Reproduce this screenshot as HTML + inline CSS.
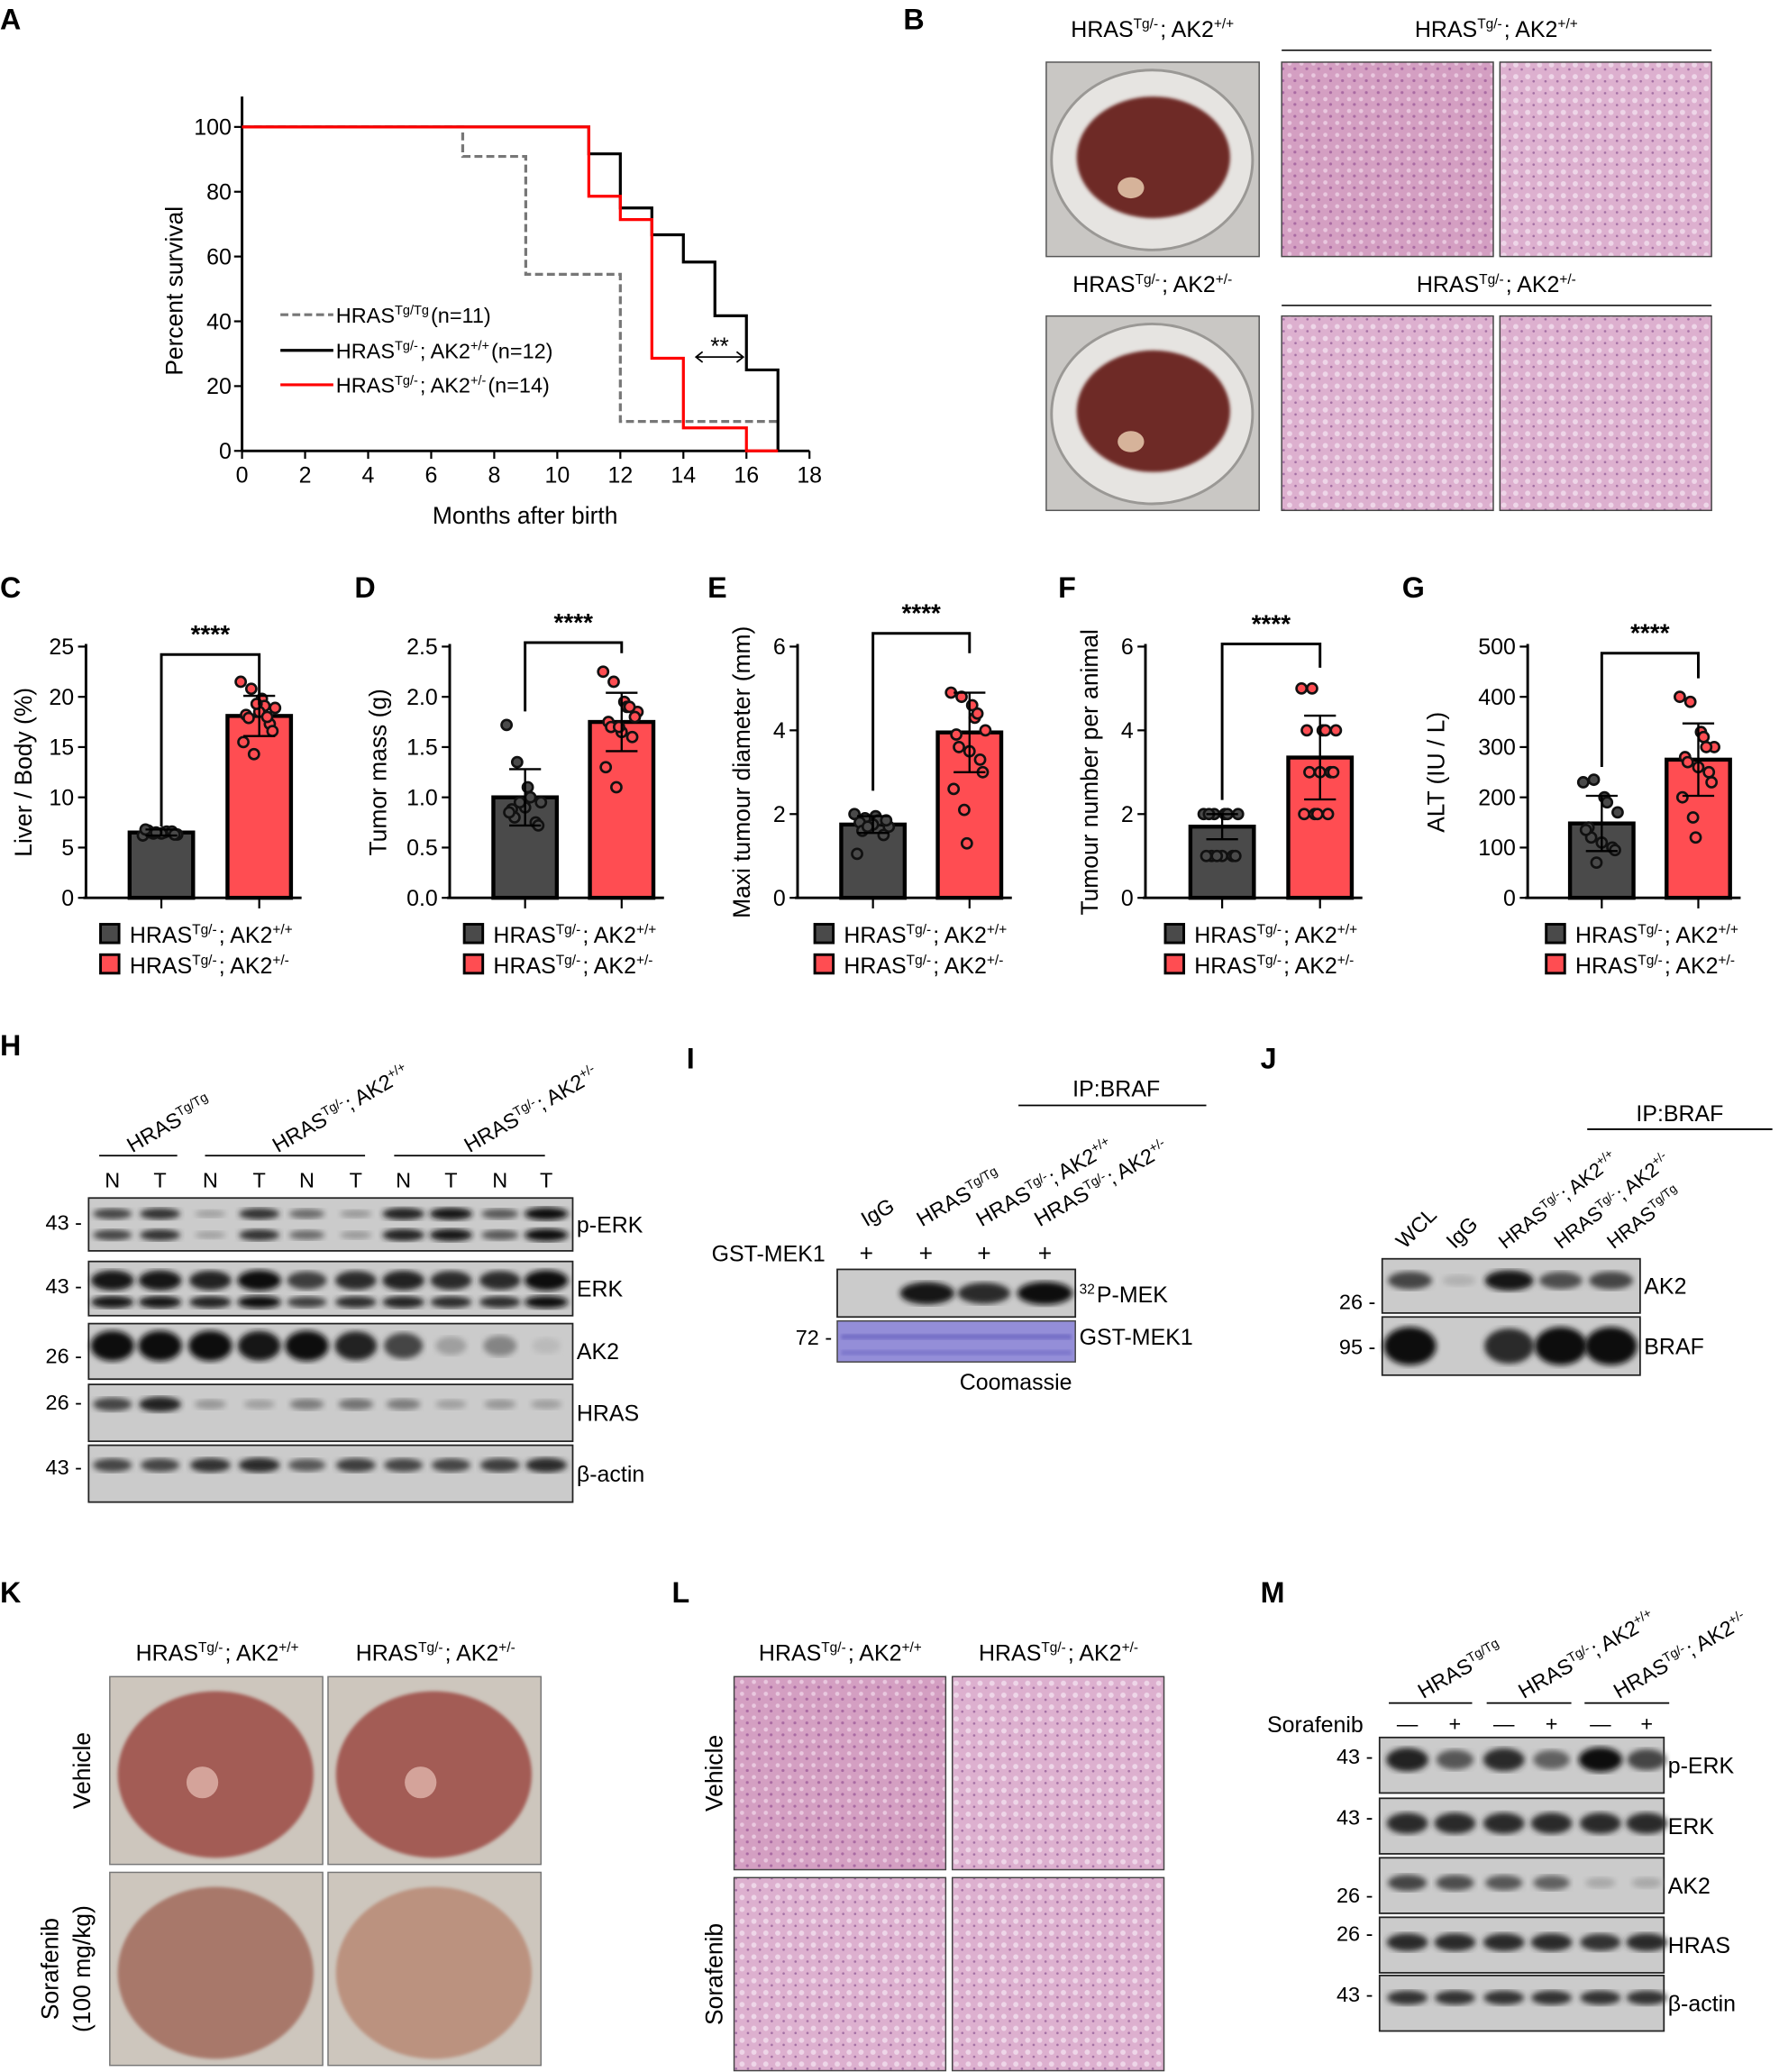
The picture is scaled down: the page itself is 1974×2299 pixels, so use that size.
<!DOCTYPE html>
<html><head><meta charset="utf-8"><style>
html,body{margin:0;padding:0;background:#fff}
svg{display:block;font-family:"Liberation Sans",Arial,sans-serif}
</style></head><body>
<svg id="fig" width="1974" height="2299" viewBox="0 0 1345 1567" preserveAspectRatio="none" xmlns="http://www.w3.org/2000/svg">
<defs>
<filter id="blur2"><feGaussianBlur stdDeviation="2.2"/></filter>
<filter id="blur1"><feGaussianBlur stdDeviation="1.2"/></filter>
<pattern id="histo" width="9" height="9" patternUnits="userSpaceOnUse"><rect width="9" height="9" fill="#d49fc2"/><circle cx="3" cy="3" r="1.6" fill="#e9c8df"/><circle cx="7" cy="7" r="1.1" fill="#a96aa3"/></pattern>
<pattern id="histo2" width="9" height="9" patternUnits="userSpaceOnUse"><rect width="9" height="9" fill="#ddb0cf"/><circle cx="3" cy="4" r="2" fill="#eed6e8"/><circle cx="7.5" cy="7.5" r="0.9" fill="#a36fa4"/></pattern>
</defs>
<g id="root"></g>
</svg>
<script>
// ---- Panel A data ----
const kmMonthsGray = [0,7,9,12,17];
const kmGray = [100,90.9,54.5,9.1,9.1];
const kmMonthsBlack = [0,11,12,13,14,15,16,17];
const kmBlack = [100,91.7,75,66.7,58.3,41.7,25,0];
const kmMonthsRed = [0,11,12,13,14,16,17];
const kmRed = [100,78.6,71.4,28.6,7.1,0,0];
const kmXTicks = [0,2,4,6,8,10,12,14,16,18];
const kmYTicks = [0,20,40,60,80,100];
// ---- Bar panels data ----
const barMeans_C = [6.5,18.1];
const barSD_C = [0.3,2.0];
const dots_C_ctrl = [6.2,6.4,6.5,6.6,6.3,6.7,6.5,6.4,6.6,6.3,6.8,6.5];
const dots_C_het = [21.5,20.8,19.8,19.1,18.9,18.2,17.9,18.5,17.3,16.6,15.5,14.3,19.3,18.0];
const barMeans_D = [1.0,1.75];
const barSD_D = [0.28,0.29];
const dots_D_ctrl = [1.72,1.35,1.1,1.0,0.95,0.88,0.8,0.9,0.75,0.72,0.85,0.95];
const dots_D_het = [2.25,2.15,1.95,1.9,1.85,1.75,1.7,1.65,1.6,1.8,1.3,1.1,1.7,1.9];
const barMeans_E = [1.75,3.95];
const barSD_E = [0.2,0.95];
const dots_E_ctrl = [2.0,1.9,1.95,1.85,1.7,1.8,1.6,1.75,1.5,1.85,1.05,1.7];
const dots_E_het = [4.9,4.8,4.6,4.3,4.0,3.9,3.6,3.5,3.3,3.0,2.6,2.1,1.3,4.4];
const barMeans_F = [1.7,3.35];
const barSD_F = [0.3,1.0];
const dots_F_ctrl = [2,2,2,2,2,2,1,1,1,1,1,1];
const dots_F_het = [5,5,4,4,4,4,3,3,3,3,2,2,2,2];
const barMeans_G = [148,275];
const barSD_G = [55,72];
const dots_G_ctrl = [230,235,200,190,170,140,120,110,100,95,135,70];
const dots_G_het = [400,390,330,320,300,280,270,260,250,230,200,160,120,300];
// ---- Blot intensities ----
const blotH_pERK = [0.7,0.8,0.2,0.8,0.5,0.25,0.9,0.95,0.6,1];
const blotH_ERK = [0.95,0.95,0.9,1,0.75,0.85,0.9,0.85,0.85,1];
const blotH_AK2 = [1,1,1,0.95,1,0.9,0.7,0.2,0.35,0.05];
const blotH_HRAS = [0.7,0.9,0.25,0.2,0.4,0.45,0.4,0.2,0.25,0.2];
const blotH_actin = [0.7,0.7,0.8,0.85,0.6,0.75,0.7,0.7,0.75,0.85];

const NS="http://www.w3.org/2000/svg";
const root=document.getElementById('root');
function el(tag,attrs,parent,text){const e=document.createElementNS(NS,tag);for(const k in attrs)e.setAttribute(k,attrs[k]);if(text!==undefined)e.textContent=text;(parent||root).appendChild(e);return e;}
function grp(name,parent){const g=el('g',{},parent);return g;}
function txt(p,x,y,s,size,opts){opts=opts||{};const t=el('text',Object.assign({x:x,y:y,'font-size':size||17,fill:'#000'},opts),p);
  const parts=s.split(/(\^\{[^}]*\})/);parts.forEach(pt=>{if(pt.startsWith('^{')){el('tspan',{'font-size':(size||17)*0.62,dy:-(size||17)*0.38},t,pt.slice(2,-1));el('tspan',{dy:(size||17)*0.38},t,'\u200a');}else if(pt)el('tspan',{},t,pt);});return t;}
function panelLetter(l,x,y){const t=txt(root,x,y,l,22,{'font-weight':'bold'});}

[['A',0,22],['B',683,22],['C',0,452],['D',268,452],['E',535,452],['F',800,452],['G',1060,452],['H',0,798],['I',519,808],['J',953,808],['K',0,1212],['L',508,1212],['M',953,1212]].forEach(a=>panelLetter(a[0],a[1],a[2]));

// ================= Panel A =================
(function(){
  const g=grp('survival-chart');
  const x0=183,x1=612,yb=341,yt=96;
  const xs=m=>x0+(x1-x0)*m/18, ys=v=>yb-(yb-yt)*v/100;
  const ax=el('line',{x1:x0,y1:73,x2:x0,y2:yb,stroke:'#000','stroke-width':2},g);
  const bx=el('line',{x1:x0,y1:yb,x2:x1,y2:yb,stroke:'#000','stroke-width':2},g);
  kmXTicks.forEach(t=>{el('line',{x1:xs(t),y1:yb,x2:xs(t),y2:yb+6,stroke:'#000','stroke-width':1.5},g);const l=txt(g,xs(t),yb+24,String(t),17,{'text-anchor':'middle'});});
  kmYTicks.forEach(t=>{el('line',{x1:x0-6,y1:ys(t),x2:x0,y2:ys(t),stroke:'#000','stroke-width':1.5},g);const l=txt(g,x0-8,ys(t)+6,String(t),17,{'text-anchor':'end'});});
  const yt_=txt(g,0,0,'Percent survival',18,{'text-anchor':'middle',transform:'translate(138,220) rotate(-90)'});
  const xt=txt(g,397,396,'Months after birth',18,{'text-anchor':'middle'});
  function step(ms,vs,color,dash,name){let d='M'+xs(ms[0])+','+ys(vs[0]);for(let i=1;i<ms.length;i++){d+=' H'+xs(ms[i])+' V'+ys(vs[i]);}
    const p=el('path',{d:d,fill:'none',stroke:color,'stroke-width':2.2,'stroke-dasharray':dash||''},g);}
  step(kmMonthsGray,kmGray,'#777','6,3','series-hras-tg-tg');
  step(kmMonthsBlack,kmBlack,'#000','','series-ak2-wt');
  step(kmMonthsRed,kmRed,'#f00','','series-ak2-het');
  const lg=grp('legend',g);
  [['#777','6,3','HRAS^{Tg/Tg}(n=11)',244],['#000','','HRAS^{Tg/-}; AK2^{+/+}(n=12)',271],['#f00','','HRAS^{Tg/-}; AK2^{+/-}(n=14)',297]].forEach((r,i)=>{
    const e=grp('legend-entry',lg);el('line',{x1:212,y1:r[3]-6,x2:252,y2:r[3]-6,stroke:r[0],'stroke-width':2.2,'stroke-dasharray':r[1]},e);txt(e,254,r[3],r[2],16);});
  el('line',{x1:xs(14.4),y1:270,x2:xs(15.9),y2:270,stroke:'#000','stroke-width':1.2},g);
  el('path',{d:`M${xs(14.4)+5},266 L${xs(14.4)},270 L${xs(14.4)+5},274 M${xs(15.9)-5},266 L${xs(15.9)},270 L${xs(15.9)-5},274`,fill:'none',stroke:'#000','stroke-width':1.2},g);
  txt(g,xs(15.15),268,'**',18,{'text-anchor':'middle'});
})();

// ================= Panel B =================
(function(){
  const g=grp('liver-histology-panel');
  txt(g,872,28,'HRAS^{Tg/-}; AK2^{+/+}',17,{'text-anchor':'middle'});
  txt(g,1132,28,'HRAS^{Tg/-}; AK2^{+/+}',17,{'text-anchor':'middle'});
  el('line',{x1:969,y1:38,x2:1294,y2:38,stroke:'#000','stroke-width':1},g);
  txt(g,872,221,'HRAS^{Tg/-}; AK2^{+/-}',17,{'text-anchor':'middle'});
  txt(g,1132,221,'HRAS^{Tg/-}; AK2^{+/-}',17,{'text-anchor':'middle'});
  el('line',{x1:969,y1:231,x2:1294,y2:231,stroke:'#000','stroke-width':1},g);
  [[47],[239]].forEach((r,i)=>{
    const y=r[0];
    const d=grp('liver-dish-photo-'+(i+1),g);
    el('rect',{x:791,y:y,width:161,height:147,fill:'#c9c7c4',stroke:'#555','stroke-width':1},d);
    el('ellipse',{cx:871,cy:y+74,rx:76,ry:68,fill:'#e6e4e1',stroke:'#9a9895','stroke-width':2},d);
    el('ellipse',{cx:872,cy:y+72,rx:58,ry:46,fill:'#6e2a25',filter:'url(#blur1)'},d);
    el('ellipse',{cx:855,cy:y+95,rx:10,ry:8,fill:'#d6b39a'},d);
    const h1=grp('histology-image',g);el('rect',{x:969,y:y,width:160,height:147,fill:i?'url(#histo2)':'url(#histo)',stroke:'#444','stroke-width':1},h1);
    const h2=grp('histology-image',g);el('rect',{x:1134,y:y,width:160,height:147,fill:'url(#histo2)',stroke:'#444','stroke-width':1},h2);
  });
})();

// ================= Bar charts C-G =================
function barChart(o){
  const g=grp(o.name);
  const yb=679,yt=489;const ys=v=>yb-(yb-yt)*v/o.max;
  el('line',{x1:o.ax,y1:yt-2,x2:o.ax,y2:yb,stroke:'#000','stroke-width':2},g);
  el('line',{x1:o.ax-2,y1:yb,x2:o.b2+56,y2:yb,stroke:'#000','stroke-width':2},g);
  o.ticks.forEach((t,i)=>{el('line',{x1:o.ax-6,y1:ys(t),x2:o.ax,y2:ys(t),stroke:'#000','stroke-width':1.5},g);const l=txt(g,o.ax-9,ys(t)+6,o.tickLabels[i],17,{'text-anchor':'end'});});
  const t=txt(g,0,0,o.title,18,{'text-anchor':'middle',transform:`translate(${o.tx},584) rotate(-90)`});
  const cols=['#4a4a4a','#ff4d52'];const xs=[o.b1,o.b2];const dots=[o.d1,o.d2];const w=48;
  [0,1].forEach(i=>{
    const r=el('rect',{x:xs[i],y:ys(o.means[i]),width:w,height:yb-ys(o.means[i]),fill:cols[i],stroke:'#000','stroke-width':3},g);
    
    const cx=xs[i]+w/2;
    el('line',{x1:cx,y1:yb,x2:cx,y2:yb+8,stroke:'#000','stroke-width':1.5},g);
    dots[i].forEach((v,j)=>{const off=((j%5)-2)*6+((j*7)%3-1)*2;
      const c=el('circle',{cx:cx+off,cy:ys(v),r:3.8,fill:cols[i],stroke:'#111','stroke-width':1.8},g);});
    const e1=ys(o.means[i]+o.sd[i]),e2=ys(o.means[i]-o.sd[i]);
    el('path',{d:`M${cx},${e1} V${e2} M${cx-12},${e1} H${cx+12} M${cx-12},${e2} H${cx+12}`,stroke:'#000','stroke-width':1.6,fill:'none'},g);
  });
  const top=o.brY;const c1=o.b1+w/2,c2=o.b2+w/2;
  el('path',{d:`M${c1},${o.l1} V${top} H${c2} V${o.l2}`,fill:'none',stroke:'#000','stroke-width':2},g);
  txt(g,(c1+c2)/2,top-9,'****',19,{'text-anchor':'middle','font-weight':'bold'});
  const lg=grp('legend',g);
  [['#4a4a4a','HRAS^{Tg/-}; AK2^{+/+}',712],['#ff4d52','HRAS^{Tg/-}; AK2^{+/-}',735]].forEach(r=>{const e=grp('legend-entry',lg);
    el('rect',{x:o.lx,y:r[2]-13,width:14,height:14,fill:r[0],stroke:'#000','stroke-width':2},e);txt(e,o.lx+22,r[2]+1,r[1],17);});
}
barChart({name:'bar-chart-liver-body',ax:65,max:25,ticks:[0,5,10,15,20,25],tickLabels:['0','5','10','15','20','25'],title:'Liver / Body (%)',tx:24,b1:98,b2:172,means:barMeans_C,sd:barSD_C,d1:dots_C_ctrl,d2:dots_C_het,brY:495,l1:625,l2:533,lx:76});
barChart({name:'bar-chart-tumor-mass',ax:340,max:2.5,ticks:[0,0.5,1,1.5,2,2.5],tickLabels:['0.0','0.5','1.0','1.5','2.0','2.5'],title:'Tumor mass (g)',tx:292,b1:373,b2:446,means:barMeans_D,sd:barSD_D,d1:dots_D_ctrl,d2:dots_D_het,brY:486,l1:538,l2:494,lx:351});
barChart({name:'bar-chart-tumour-diameter',ax:603,max:6,ticks:[0,2,4,6],tickLabels:['0','2','4','6'],title:'Maxi tumour diameter (mm)',tx:567,b1:636,b2:709,means:barMeans_E,sd:barSD_E,d1:dots_E_ctrl,d2:dots_E_het,brY:479,l1:598,l2:494,lx:616});
barChart({name:'bar-chart-tumour-number',ax:866,max:6,ticks:[0,2,4,6],tickLabels:['0','2','4','6'],title:'Tumour number per animal',tx:830,b1:900,b2:974,means:barMeans_F,sd:barSD_F,d1:dots_F_ctrl,d2:dots_F_het,brY:487,l1:605,l2:505,lx:881});
barChart({name:'bar-chart-alt',ax:1155,max:500,ticks:[0,100,200,300,400,500],tickLabels:['0','100','200','300','400','500'],title:'ALT (IU / L)',tx:1092,b1:1187,b2:1260,means:barMeans_G,sd:barSD_G,d1:dots_G_ctrl,d2:dots_G_het,brY:494,l1:580,l2:513,lx:1169});

// ================= Blots =================
function blot(g,x,y,w,h,lanes,ints,opts){opts=opts||{};
  const b=grp(opts.name||'blot-strip',g);
  el('rect',{x:x,y:y,width:w,height:h,fill:opts.bg||'#cbcbcb',stroke:'#222','stroke-width':1.2},b);
  lanes.forEach((lx,i)=>{const v=ints[i];if(v<=0.02)return;const c=Math.round(195-180*v);
    (opts.bands||[[0.5,1]]).forEach(bd=>{el('ellipse',{cx:lx,cy:y+h*bd[0],rx:(opts.rx||15)*(0.7+0.4*v),ry:(opts.ry||5)*(0.6+0.6*v)*bd[1],fill:`rgb(${c},${c},${c})`,filter:'url(#blur2)'},b);});});
  if(opts.label)txt(g,x+w+3,y+h/2+6,opts.label,17);
  if(opts.mw)txt(g,x-5,y+(opts.mwY||h/2)+6,opts.mw+' -',16,{'text-anchor':'end'});
}
(function(){
  const g=grp('western-blot-h');
  const lanes=[85,121,159,196,232,269,305,341,378,413];
  txt(g,0,0,'HRAS^{Tg/Tg}',16,{transform:'translate(100,872) rotate(-30)'});
  txt(g,0,0,'HRAS^{Tg/-}; AK2^{+/+}',16,{transform:'translate(210,872) rotate(-30)'});
  txt(g,0,0,'HRAS^{Tg/-}; AK2^{+/-}',16,{transform:'translate(355,872) rotate(-30)'});
  [[75,134],[155,276],[298,412]].forEach(s=>el('line',{x1:s[0],y1:874,x2:s[1],y2:874,stroke:'#000','stroke-width':1.2},g));
  ['N','T','N','T','N','T','N','T','N','T'].forEach((l,i)=>txt(g,lanes[i],898,l,16,{'text-anchor':'middle'}));
  blot(g,67,906,366,40,lanes,blotH_pERK,{label:'p-ERK',mw:'43',mwY:18,bands:[[0.3,1],[0.7,1]],ry:4,name:'blot-p-erk'});
  blot(g,67,954,366,41,lanes,blotH_ERK,{label:'ERK',mw:'43',mwY:18,bands:[[0.35,1.3],[0.75,0.8]],ry:5,name:'blot-erk'});
  blot(g,67,1001,366,42,lanes,blotH_AK2,{label:'AK2',mw:'26',mwY:24,bands:[[0.4,1.6]],ry:6,name:'blot-ak2'});
  blot(g,67,1047,366,43,lanes,blotH_HRAS,{label:'HRAS',mw:'26',mwY:13,bands:[[0.35,1]],ry:5,name:'blot-hras'});
  blot(g,67,1093,366,43,lanes,blotH_actin,{label:'β-actin',mw:'43',mwY:16,bands:[[0.35,1]],ry:5,name:'blot-beta-actin'});
})();
(function(){
  const g=grp('kinase-assay-i');
  txt(g,844,829,'IP:BRAF',17,{'text-anchor':'middle'});
  el('line',{x1:770,y1:836,x2:912,y2:836,stroke:'#000','stroke-width':1.2},g);
  txt(g,0,0,'IgG',16,{transform:'translate(655,928) rotate(-30)'});
  txt(g,0,0,'HRAS^{Tg/Tg}',16,{transform:'translate(697,928) rotate(-30)'});
  txt(g,0,0,'HRAS^{Tg/-}; AK2^{+/+}',16,{transform:'translate(742,928) rotate(-30)'});
  txt(g,0,0,'HRAS^{Tg/-}; AK2^{+/-}',16,{transform:'translate(786,928) rotate(-30)'});
  txt(g,538,954,'GST-MEK1',17);
  [655,700,744,790].forEach(x=>txt(g,x,954,'+',18,{'text-anchor':'middle'}));
  blot(g,633,960,180,36,[655,701,744,790],[0,0.95,0.85,1],{label:'',bands:[[0.5,1.2]],ry:6,rx:19,name:'blot-32p-mek'});
  txt(g,816,985,'^{32}P-MEK',17);
  const c=grp('coomassie-gel',g);
  el('rect',{x:633,y:999,width:180,height:31,fill:'#948ed8',stroke:'#444','stroke-width':1},c);
  [[1009,'#746ec6'],[1021,'#7e78cc']].forEach(r=>el('rect',{x:636,y:r[0],width:174,height:4,fill:r[1],filter:'url(#blur1)'},c));
  txt(g,629,1017,'72 -',16,{'text-anchor':'end'});
  txt(g,816,1017,'GST-MEK1',17);
  txt(g,768,1051,'Coomassie',17,{'text-anchor':'middle'});
})();
(function(){
  const g=grp('co-ip-j');
  txt(g,1270,848,'IP:BRAF',17,{'text-anchor':'middle'});
  el('line',{x1:1200,y1:854,x2:1340,y2:854,stroke:'#000','stroke-width':1.2},g);
  txt(g,0,0,'WCL',16,{transform:'translate(1062,945) rotate(-45)'});
  txt(g,0,0,'IgG',16,{transform:'translate(1100,945) rotate(-45)'});
  txt(g,0,0,'HRAS^{Tg/-}; AK2^{+/+}',15,{transform:'translate(1138,945) rotate(-38)'});
  txt(g,0,0,'HRAS^{Tg/-}; AK2^{+/-}',15,{transform:'translate(1180,945) rotate(-38)'});
  txt(g,0,0,'HRAS^{Tg/Tg}',15,{transform:'translate(1220,945) rotate(-38)'});
  const ln=[1066,1103,1141,1180,1218];
  blot(g,1045,952,195,41,ln,[0.7,0.1,0.95,0.65,0.7],{label:'AK2',mw:'26',mwY:32,bands:[[0.4,1.1]],ry:6,rx:17,name:'blot-ak2-coip'});
  blot(g,1045,996,195,44,ln,[1,0,0.85,1,1],{label:'BRAF',mw:'95',mwY:22,bands:[[0.5,2]],ry:6,rx:18,name:'blot-braf'});
})();
(function(){
  const g=grp('liver-photos-k');
  txt(g,165,1256,'HRAS^{Tg/-}; AK2^{+/+}',17,{'text-anchor':'middle'});
  txt(g,330,1256,'HRAS^{Tg/-}; AK2^{+/-}',17,{'text-anchor':'middle'});
  txt(g,0,0,'Vehicle',18,{'text-anchor':'middle',transform:'translate(68,1339) rotate(-90)'});
  txt(g,0,0,'Sorafenib',18,{'text-anchor':'middle',transform:'translate(44,1489) rotate(-90)'});
  txt(g,0,0,'(100 mg/kg)',18,{'text-anchor':'middle',transform:'translate(68,1489) rotate(-90)'});
  [[83,1268,142,'#a35c55'],[248,1268,142,'#a35c55'],[83,1416,146,'#a8786b'],[248,1416,146,'#bb927f']].forEach((r,i)=>{
    const p=grp('liver-photo',g);
    el('rect',{x:r[0],y:r[1],width:161,height:r[2],fill:'#cdc6bd',stroke:'#777','stroke-width':1},p);
    el('ellipse',{cx:r[0]+80,cy:r[1]+r[2]/2+3,rx:74,ry:r[2]/2-8,fill:r[3],filter:'url(#blur1)'},p);
    if(i<2)el('circle',{cx:r[0]+70,cy:r[1]+80,r:12,fill:'#d4a39a'},p);
  });
})();
(function(){
  const g=grp('histology-l');
  txt(g,636,1256,'HRAS^{Tg/-}; AK2^{+/+}',17,{'text-anchor':'middle'});
  txt(g,801,1256,'HRAS^{Tg/-}; AK2^{+/-}',17,{'text-anchor':'middle'});
  txt(g,0,0,'Vehicle',18,{'text-anchor':'middle',transform:'translate(546,1341) rotate(-90)'});
  txt(g,0,0,'Sorafenib',18,{'text-anchor':'middle',transform:'translate(546,1493) rotate(-90)'});
  [[555,1268,146,'url(#histo)'],[720,1268,146,'url(#histo2)'],[555,1420,146,'url(#histo2)'],[720,1420,146,'url(#histo2)']].forEach(r=>{
    const p=grp('histology-image',g);el('rect',{x:r[0],y:r[1],width:160,height:r[2],fill:r[3],stroke:'#444','stroke-width':1},p);});
})();
(function(){
  const g=grp('western-blot-m');
  const ln=[1064,1100,1137,1173,1210,1245];
  txt(g,0,0,'HRAS^{Tg/Tg}',16,{transform:'translate(1076,1285) rotate(-30)'});
  txt(g,0,0,'HRAS^{Tg/-}; AK2^{+/+}',16,{transform:'translate(1152,1285) rotate(-30)'});
  txt(g,0,0,'HRAS^{Tg/-}; AK2^{+/-}',16,{transform:'translate(1224,1285) rotate(-30)'});
  [[1050,1113],[1124,1188],[1198,1262]].forEach(s=>el('line',{x1:s[0],y1:1288,x2:s[1],y2:1288,stroke:'#000','stroke-width':1.2},g));
  txt(g,958,1310,'Sorafenib',17);
  ['\u2014','+','\u2014','+','\u2014','+'].forEach((s,i)=>txt(g,ln[i],1309,s,16,{'text-anchor':'middle'}));
  blot(g,1043,1314,215,42,ln,[0.9,0.6,0.85,0.55,1,0.7],{label:'p-ERK',mw:'43',mwY:14,bands:[[0.4,1.3]],ry:6,name:'blot-m-p-erk'});
  blot(g,1043,1360,215,42,ln,[0.85,0.85,0.85,0.85,0.85,0.85],{label:'ERK',mw:'43',mwY:14,bands:[[0.45,1.2]],ry:6,name:'blot-m-erk'});
  blot(g,1043,1405,215,42,ln,[0.7,0.65,0.6,0.55,0.15,0.15],{label:'AK2',mw:'26',mwY:28,bands:[[0.45,1]],ry:6,name:'blot-m-ak2'});
  blot(g,1043,1450,215,42,ln,[0.85,0.85,0.85,0.85,0.8,0.85],{label:'HRAS',mw:'26',mwY:12,bands:[[0.45,1]],ry:6,name:'blot-m-hras'});
  blot(g,1043,1494,215,42,ln,[0.8,0.8,0.8,0.8,0.8,0.8],{label:'β-actin',mw:'43',mwY:14,bands:[[0.4,1]],ry:5,name:'blot-m-beta-actin'});
})();
</script>
</body></html>
